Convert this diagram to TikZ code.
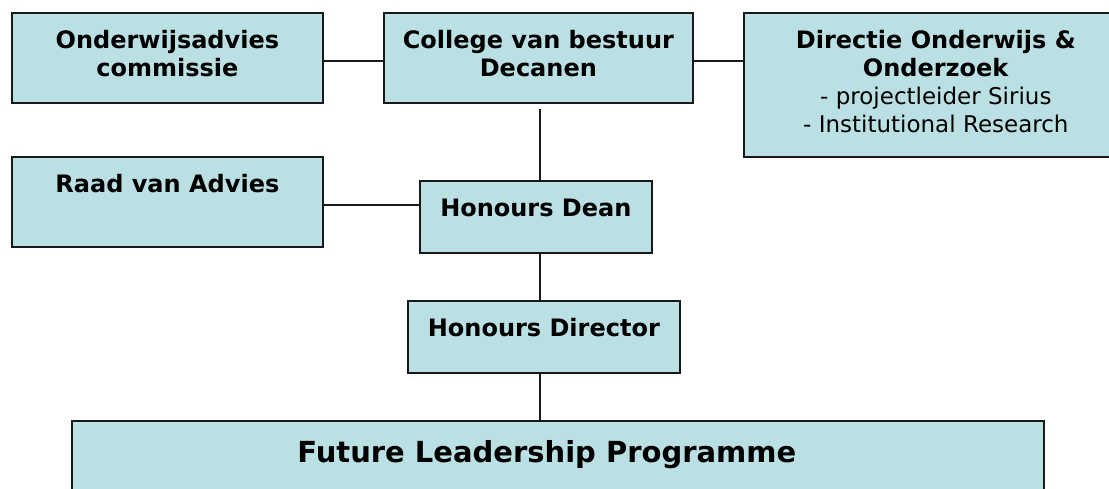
\documentclass[tikz,border=0pt]{standalone}
\usepackage{fontspec}
\setmainfont{DejaVu Sans}
\definecolor{boxfill}{RGB}{186,224,227}
\definecolor{boxline}{RGB}{25,25,25}
% Box text: fixed-size, top-aligned paragraph with a strut fixing the first baseline
\newcommand{\orgtext}[3]{\parbox[c][#2][t]{#1}{\centering\fontsize{24pt}{28pt}\selectfont\rule{0pt}{36pt}#3}}
\newcommand{\plain}[1]{{\fontsize{23pt}{28pt}\selectfont #1}}
\begin{document}
\begin{tikzpicture}[x=1pt,y=-1pt,
  orgbox/.style={draw=boxline,fill=boxfill,line width=1.7pt,rectangle,inner sep=0pt,anchor=north west},
  link/.style={draw=boxline,line width=1.6pt}]
\useasboundingbox (0,0) rectangle (1109,488);

\node[orgbox] (onderwijs) at (11,12) {\orgtext{311pt}{90pt}{\bfseries Onderwijsadvies\\commissie}};
\node[orgbox] (college) at (383,12) {\orgtext{309pt}{90pt}{\bfseries College van bestuur\\Decanen}};
\node[orgbox] (directie) at (743,12) {\orgtext{384pt}{144pt}{\textbf{Directie Onderwijs \&}\\\textbf{Onderzoek}\\\plain{- projectleider Sirius}\\\plain{- Institutional Research}}};
\node[orgbox] (raad) at (11,156) {\orgtext{311pt}{90pt}{\bfseries Raad van Advies}};
\node[orgbox] (dean) at (419,180) {\orgtext{232pt}{72pt}{\bfseries Honours Dean}};
\node[orgbox] (director) at (407,300) {\orgtext{272pt}{72pt}{\bfseries Honours Director}};
\node[orgbox] (future) at (71,420) {\parbox[c][100pt][t]{972pt}{\centering\fontsize{29pt}{34pt}\selectfont\rule{0pt}{42pt}\hspace*{-22pt}\bfseries Future Leadership Programme}};

% horizontal links
\coordinate (oe) at ([yshift=-3pt]onderwijs.east);
\coordinate (ce) at ([yshift=-3pt]college.east);
\coordinate (re) at ([yshift=-3pt]raad.east);
\draw[link] (oe) -- (oe -| college.west);
\draw[link] (ce) -- (ce -| directie.west);
\draw[link] (re) -- (re -| dean.west);

% vertical spine
\coordinate (spine) at (540,0);
\draw[link,shorten <=5pt] (college.south -| spine) -- (dean.north -| spine);
\draw[link] (dean.south -| spine) -- (director.north -| spine);
\draw[link] (director.south -| spine) -- (future.north -| spine);
\end{tikzpicture}
\end{document}
